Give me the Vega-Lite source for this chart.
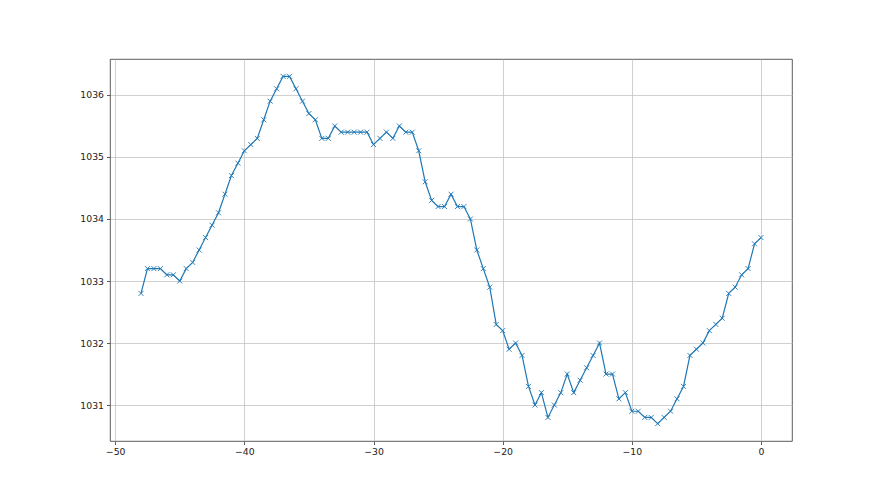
{
  "$schema": "https://vega.github.io/schema/vega-lite/v6.json",
  "width": 682,
  "height": 382,
  "autosize": {"type": "none"},
  "padding": {"left": 110, "top": 59, "right": 88, "bottom": 54},
  "background": "white",
  "config": {
    "view": {"stroke": "#333333", "strokeWidth": 0.8},
    "axis": {
      "labelFont": "DejaVu Sans",
      "labelFontSize": 9.3,
      "labelColor": "#222222",
      "tickColor": "#333333",
      "tickSize": 3.5,
      "tickWidth": 0.8,
      "domain": false,
      "gridColor": "#c4c4c4",
      "gridWidth": 0.8,
      "gridOpacity": 1,
      "title": null,
      "labelPadding": 3
    }
  },
  "data": {
    "values": [
      {"t": -48, "p": 1032.8}, {"t": -47.5, "p": 1033.2}, {"t": -47, "p": 1033.2}, {"t": -46.5, "p": 1033.2},
      {"t": -46, "p": 1033.1}, {"t": -45.5, "p": 1033.1}, {"t": -45, "p": 1033.0}, {"t": -44.5, "p": 1033.2},
      {"t": -44, "p": 1033.3}, {"t": -43.5, "p": 1033.5}, {"t": -43, "p": 1033.7}, {"t": -42.5, "p": 1033.9},
      {"t": -42, "p": 1034.1}, {"t": -41.5, "p": 1034.4}, {"t": -41, "p": 1034.7}, {"t": -40.5, "p": 1034.9},
      {"t": -40, "p": 1035.1}, {"t": -39.5, "p": 1035.2}, {"t": -39, "p": 1035.3}, {"t": -38.5, "p": 1035.6},
      {"t": -38, "p": 1035.9}, {"t": -37.5, "p": 1036.1}, {"t": -37, "p": 1036.3}, {"t": -36.5, "p": 1036.3},
      {"t": -36, "p": 1036.1}, {"t": -35.5, "p": 1035.9}, {"t": -35, "p": 1035.7}, {"t": -34.5, "p": 1035.6},
      {"t": -34, "p": 1035.3}, {"t": -33.5, "p": 1035.3}, {"t": -33, "p": 1035.5}, {"t": -32.5, "p": 1035.4},
      {"t": -32, "p": 1035.4}, {"t": -31.5, "p": 1035.4}, {"t": -31, "p": 1035.4}, {"t": -30.5, "p": 1035.4},
      {"t": -30, "p": 1035.2}, {"t": -29.5, "p": 1035.3}, {"t": -29, "p": 1035.4}, {"t": -28.5, "p": 1035.3},
      {"t": -28, "p": 1035.5}, {"t": -27.5, "p": 1035.4}, {"t": -27, "p": 1035.4}, {"t": -26.5, "p": 1035.1},
      {"t": -26, "p": 1034.6}, {"t": -25.5, "p": 1034.3}, {"t": -25, "p": 1034.2}, {"t": -24.5, "p": 1034.2},
      {"t": -24, "p": 1034.4}, {"t": -23.5, "p": 1034.2}, {"t": -23, "p": 1034.2}, {"t": -22.5, "p": 1034.0},
      {"t": -22, "p": 1033.5}, {"t": -21.5, "p": 1033.2}, {"t": -21, "p": 1032.9}, {"t": -20.5, "p": 1032.3},
      {"t": -20, "p": 1032.2}, {"t": -19.5, "p": 1031.9}, {"t": -19, "p": 1032.0}, {"t": -18.5, "p": 1031.8},
      {"t": -18, "p": 1031.3}, {"t": -17.5, "p": 1031.0}, {"t": -17, "p": 1031.2}, {"t": -16.5, "p": 1030.8},
      {"t": -16, "p": 1031.0}, {"t": -15.5, "p": 1031.2}, {"t": -15, "p": 1031.5}, {"t": -14.5, "p": 1031.2},
      {"t": -14, "p": 1031.4}, {"t": -13.5, "p": 1031.6}, {"t": -13, "p": 1031.8}, {"t": -12.5, "p": 1032.0},
      {"t": -12, "p": 1031.5}, {"t": -11.5, "p": 1031.5}, {"t": -11, "p": 1031.1}, {"t": -10.5, "p": 1031.2},
      {"t": -10, "p": 1030.9}, {"t": -9.5, "p": 1030.9}, {"t": -9, "p": 1030.8}, {"t": -8.5, "p": 1030.8},
      {"t": -8, "p": 1030.7}, {"t": -7.5, "p": 1030.8}, {"t": -7, "p": 1030.9}, {"t": -6.5, "p": 1031.1},
      {"t": -6, "p": 1031.3}, {"t": -5.5, "p": 1031.8}, {"t": -5, "p": 1031.9}, {"t": -4.5, "p": 1032.0},
      {"t": -4, "p": 1032.2}, {"t": -3.5, "p": 1032.3}, {"t": -3, "p": 1032.4}, {"t": -2.5, "p": 1032.8},
      {"t": -2, "p": 1032.9}, {"t": -1.5, "p": 1033.1}, {"t": -1, "p": 1033.2}, {"t": -0.5, "p": 1033.6},
      {"t": 0, "p": 1033.7}
    ]
  },
  "encoding": {
    "x": {
      "field": "t", "type": "quantitative",
      "scale": {"domain": [-50.4, 2.4], "nice": false, "zero": false},
      "axis": {"values": [-50, -40, -30, -20, -10, 0], "format": "d"}
    },
    "y": {
      "field": "p", "type": "quantitative",
      "scale": {"domain": [1030.42, 1036.58], "nice": false, "zero": false},
      "axis": {"values": [1031, 1032, 1033, 1034, 1035, 1036], "format": "d"}
    }
  },
  "layer": [
    {"mark": {"type": "line", "color": "#1f77b4", "strokeWidth": 1.2}},
    {"mark": {"type": "point", "shape": "M-1,-1L1,1M-1,1L1,-1", "filled": false, "stroke": "#1f77b4", "strokeWidth": 0.9, "size": 25, "opacity": 1}}
  ]
}
